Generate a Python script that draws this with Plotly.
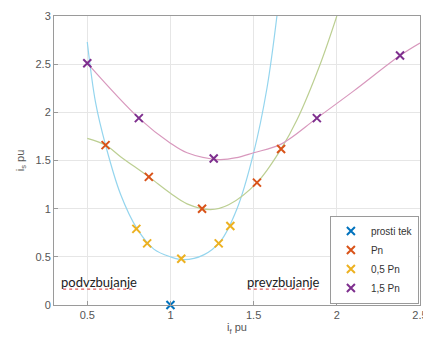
import plotly.graph_objects as go

# Marker data
prosti_x = [1.0]
prosti_y = [0.0]
pn_x = [0.61, 0.87, 1.19, 1.52, 1.665]
pn_y = [1.66, 1.33, 1.00, 1.27, 1.62]
half_x = [0.795, 0.86, 1.065, 1.29, 1.36]
half_y = [0.79, 0.64, 0.48, 0.64, 0.82]
onehalf_x = [0.50, 0.81, 1.26, 1.88, 2.38]
onehalf_y = [2.51, 1.94, 1.52, 1.94, 2.59]

# Fitted curves
c_half_x = [0.50, 0.55, 0.61, 0.70, 0.80, 0.90, 1.00, 1.08, 1.20, 1.30, 1.40, 1.50, 1.58, 1.64]
c_half_y = [2.73, 2.10, 1.66, 1.15, 0.79, 0.58, 0.50, 0.47, 0.52, 0.66, 1.00, 1.58, 2.25, 3.00]
c_pn_x = [0.50, 0.61, 0.70, 0.87, 1.00, 1.10, 1.24, 1.35, 1.52, 1.665, 1.76, 1.90, 2.00]
c_pn_y = [1.73, 1.66, 1.54, 1.33, 1.16, 1.05, 0.99, 1.04, 1.27, 1.62, 1.92, 2.50, 3.00]
c_oh_x = [0.50, 0.81, 1.00, 1.10, 1.29, 1.40, 1.50, 1.665, 1.88, 2.10, 2.38, 2.50]
c_oh_y = [2.51, 1.94, 1.68, 1.58, 1.51, 1.53, 1.58, 1.67, 1.94, 2.22, 2.59, 2.72]

xticks = [0.5, 1, 1.5, 2, 2.5]
yticks = [0, 0.5, 1, 1.5, 2, 2.5, 3]
region_labels = ["podvzbujanje", "prevzbujanje"]
region_x = [0.57, 1.68]
region_y = 0.24

fig = go.Figure()
fig.add_trace(go.Scatter(x=c_half_x, y=c_half_y, mode="lines", line=dict(color="#94d5ee", width=1.2, shape="spline"), showlegend=False, hoverinfo="skip"))
fig.add_trace(go.Scatter(x=c_pn_x, y=c_pn_y, mode="lines", line=dict(color="#bccf92", width=1.2, shape="spline"), showlegend=False, hoverinfo="skip"))
fig.add_trace(go.Scatter(x=c_oh_x, y=c_oh_y, mode="lines", line=dict(color="#d898bd", width=1.2, shape="spline"), showlegend=False, hoverinfo="skip"))

def mk(c):
    return dict(symbol="x-thin", size=8, color=c, line=dict(width=2, color=c))

fig.add_trace(go.Scatter(x=prosti_x, y=prosti_y, mode="markers", name="prosti tek", cliponaxis=False, marker=mk("#0072BD")))
fig.add_trace(go.Scatter(x=pn_x, y=pn_y, mode="markers", name="Pn", marker=mk("#D95319")))
fig.add_trace(go.Scatter(x=half_x, y=half_y, mode="markers", name="0,5 Pn", marker=mk("#EDB120")))
fig.add_trace(go.Scatter(x=onehalf_x, y=onehalf_y, mode="markers", name="1,5 Pn", marker=mk("#7E2F8E")))

for txt, xc in zip(region_labels, region_x):
    fig.add_annotation(x=xc, y=region_y, xref="x", yref="y", text=txt, showarrow=False,
                       font=dict(family="Lato", size=13, color="#222222"))
    fig.add_shape(type="line", xref="x", yref="y", x0=xc - 0.215, x1=xc + 0.215, y0=region_y - 0.075, y1=region_y - 0.075,
                  line=dict(color="#e05a5a", width=1.2, dash="dot"), layer="above")

axis_common = dict(showgrid=True, gridcolor="#e6e6e6", gridwidth=1, zeroline=False,
                   showline=True, linecolor="#9a9a9a", linewidth=1, mirror=True,
                   ticks="inside", ticklen=4, tickcolor="#9a9a9a", automargin=False,
                   ticklabeloverflow="allow",
                   tickfont=dict(family="Liberation Sans", size=11, color="#555555"))
fig.update_layout(
    width=423, height=340, autosize=False,
    margin=dict(l=54, r=3, t=16, b=35),
    paper_bgcolor="white", plot_bgcolor="white",
    xaxis=dict(range=[0.3, 2.5], tickvals=xticks, ticktext=[str(v) for v in xticks],
               title=dict(text="i<sub>f</sub> pu", font=dict(family="Liberation Sans", size=11, color="#555555"), standoff=0),
               **axis_common),
    yaxis=dict(range=[0, 3], tickvals=yticks, ticktext=[str(v) for v in yticks],
               title=dict(text="i<sub>s</sub> pu", font=dict(family="Liberation Sans", size=11, color="#555555"), standoff=8),
               **axis_common),
    legend=dict(x=0.997, y=0.005, xanchor="right", yanchor="bottom", bgcolor="white",
                bordercolor="#9a9a9a", borderwidth=1, font=dict(family="Liberation Sans", size=10, color="#333333"),
                tracegroupgap=0, itemwidth=30),
    showlegend=True,
)
post = ("document.body.style.margin='0px';document.body.style.overflow='hidden';"
        "var gd=document.getElementById('{plot_id}');Plotly.relayout(gd,{width:423,height:340});")
fig.write_html("out.html", post_script=post, config={"responsive": False, "displayModeBar": False})
